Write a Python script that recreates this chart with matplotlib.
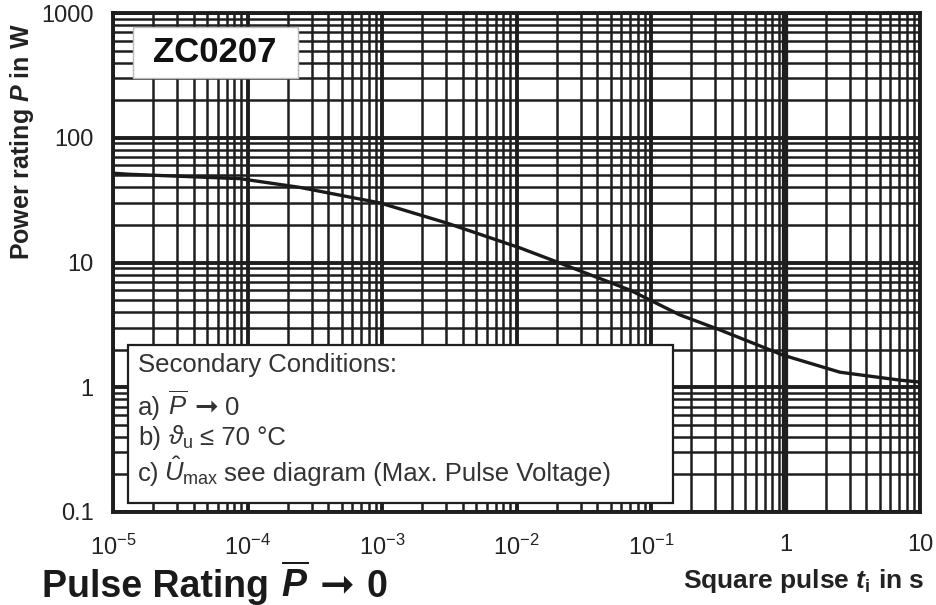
import matplotlib
matplotlib.use('Agg')
import matplotlib.pyplot as plt
from matplotlib.patches import Rectangle
from matplotlib.ticker import LogLocator, NullFormatter

plt.rcParams['font.family'] = ['Liberation Sans', 'DejaVu Sans']
plt.rcParams['mathtext.fontset'] = 'custom'
plt.rcParams['mathtext.rm'] = 'Liberation Sans'
plt.rcParams['mathtext.it'] = 'Liberation Sans:italic'
plt.rcParams['mathtext.bf'] = 'Liberation Sans:bold'
plt.rcParams['mathtext.bfit'] = 'Liberation Sans:italic:bold'

# pulse rating curve
t_pulse = [1e-5, 1.3e-5, 8.8e-5, 2.45e-4, 9.7e-4, 3.04e-3, 1.06e-2, 2.1e-2,
           7.0e-2, 0.164, 0.326, 0.957, 2.54, 7.1, 10.0]
p_rating = [52, 51, 47, 40, 30, 20.7, 13.1, 9.9, 6.0, 3.8, 2.88, 1.81,
            1.32, 1.14, 1.10]

x_ticks = [1e-5, 1e-4, 1e-3, 1e-2, 1e-1, 1, 10]
x_labels = [r'$10^{-5}$', r'$10^{-4}$', r'$10^{-3}$', r'$10^{-2}$',
            r'$10^{-1}$', '1', '10']
y_ticks = [0.1, 1, 10, 100, 1000]
y_labels = ['0.1', '1', '10', '100', '1000']

W, H = 937, 605
fig = plt.figure(figsize=(W / 100, H / 100), dpi=100)
ax = fig.add_axes([113 / W, 1 - 512 / H, 807 / W, 499 / H])
renderer = fig.canvas.get_renderer()


def fp(x, y):
    return x / W, 1 - y / H


def chain(x, y, pieces, gap=6, **common):
    # place text pieces one after another, left to right (pixel coords)
    for s, kw in pieces:
        opts = dict(common)
        opts.update(kw)
        t = fig.text(*fp(x, y), s, ha='left', va='baseline', **opts)
        bb = t.get_window_extent(renderer)
        x = bb.x1 + gap


ax.set_xscale('log')
ax.set_yscale('log')
ax.set_xlim(1e-5, 10)
ax.set_ylim(0.1, 1000)

ax.xaxis.set_minor_locator(LogLocator(base=10, subs=range(2, 10)))
ax.yaxis.set_minor_locator(LogLocator(base=10, subs=range(2, 10)))
ax.xaxis.set_minor_formatter(NullFormatter())
ax.yaxis.set_minor_formatter(NullFormatter())
ax.set_xticks(x_ticks)
ax.set_xticklabels(x_labels)
ax.set_yticks(y_ticks)
ax.set_yticklabels(y_labels)
ax.tick_params(which='both', length=0)
ax.tick_params(axis='x', labelsize=17, pad=16, colors='#222222')
ax.tick_params(axis='y', labelsize=17, pad=14, colors='#222222')

ax.set_axisbelow(True)
ax.grid(which='minor', color='#1e1e1e', linewidth=1.8)
ax.grid(which='major', color='#1e1e1e', linewidth=2.8)
ax.axvline(1, color='#1e1e1e', linewidth=4.5, zorder=1)
for s in ax.spines.values():
    s.set_linewidth(2.8)
    s.set_color('#1e1e1e')

ax.plot(t_pulse, p_rating, color='#1a1a1a', linewidth=2.4, zorder=3)

# label boxes
ax.add_patch(Rectangle((0.0248, 0.870), 0.204, 0.102, transform=ax.transAxes,
                       facecolor='white', edgecolor='#bbbbbb', linewidth=1,
                       zorder=4))
ax.add_patch(Rectangle((0.0186, 0.018), 0.675, 0.317, transform=ax.transAxes,
                       facecolor='white', edgecolor='#1e1e1e', linewidth=1.6,
                       zorder=4))

fig.text(*fp(215, 53), 'ZC0207', fontsize=25, fontweight='bold',
         ha='center', va='center', color='#111111')

tc = '#333333'
fs = 18.5
fig.text(*fp(138, 372), 'Secondary Conditions:', fontsize=fs,
         va='baseline', color=tc)
chain(138, 415, [('a)', {}), (r'$\overline{P}$', {}),
                 ('➞', {'family': 'DejaVu Sans', 'fontsize': fs + 2}),
                 ('0', {})], gap=7, fontsize=fs, color=tc)
chain(138, 445, [('b)', {}), (r'$\vartheta_{\mathrm{u}}$', {}),
                 ('≤ 70 °C', {})], gap=7, fontsize=fs, color=tc)
chain(138, 481, [('c)', {}), (r'$\hat{U}_{\mathrm{max}}$', {}),
                 ('see diagram (Max. Pulse Voltage)', {})],
      gap=5, fontsize=fs, color=tc)

fig.text(*fp(22, 142), r'Power rating $\mathbfit{P}$ in W', fontsize=18,
         fontweight='bold', rotation=90, ha='center', va='center',
         color='#222222')
fig.text(*fp(925, 581), r'Square pulse $\mathbfit{t}_{\mathbf{i}}$ in s',
         fontsize=19, fontweight='bold', ha='right', va='center',
         color='#222222')
chain(42, 597, [('Pulse Rating', {}), (r'$\mathbfit{\overline{P}}$', {}),
                ('➞', {'family': 'DejaVu Sans', 'fontsize': 30}),
                ('0', {})], gap=12, fontsize=27, fontweight='bold',
      color='#1a1a1a')

fig.savefig('out.png', dpi=100)
